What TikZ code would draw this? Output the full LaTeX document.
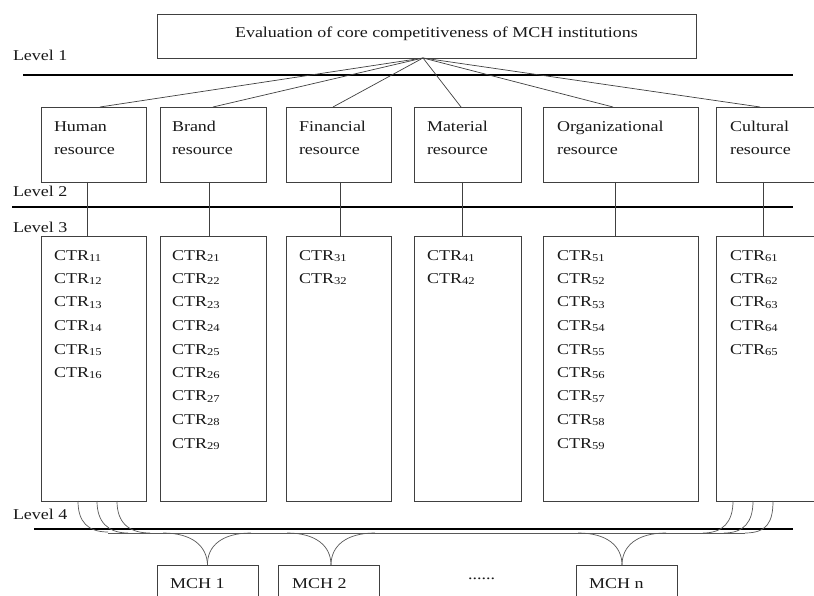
\documentclass[tikz,border=0pt]{standalone}
\usepackage{fontspec}
\setmainfont{Liberation Serif}[FakeStretch=1.2]
\newcommand\ctr[1]{CTR\raisebox{-1.2pt}{\fontsize{10.5}{10.5}\selectfont #1}}
\newcommand\twol[2]{\vtop{\hbox{#1}\hbox{#2}}}
\begin{document}
\begin{tikzpicture}[x=1pt,y=-1pt,
  box/.style={draw=black!75,line width=0.8pt,rectangle,inner sep=0pt,outer sep=0pt},
  txt/.style={anchor=base west,inner sep=0pt,outer sep=0pt,text=black!90,font=\fontsize{15}{23}\selectfont},
  ctrtxt/.style={txt,font=\fontsize{15}{23.5}\selectfont},
  conn/.style={draw=black!75,line width=0.7pt},
  curve/.style={draw=black!65,line width=0.7pt},
  rule/.style={draw=black,line width=2.3pt}]
\clip (0,0) rectangle (814,596);
\fill[white] (0,0) rectangle (814,596);
% level 1
\node[box,minimum width=539pt,minimum height=44pt] (top) at (426.5,36) {};
\node[txt] (toptxt) at (235,38) {Evaluation of core competitiveness of MCH institutions};
\node[txt] (l1) at (13,61) {Level 1};
\node[txt] (l2) at (13,197) {Level 2};
\node[txt] (l3) at (13,233) {Level 3};
\node[txt] (l4) at (13,519) {Level 4};
\draw[rule] (23,75) -- (793,75);
\draw[rule] (12,207) -- (793,207);
\draw[rule] (34,529) -- (793,529);
% level 2 boxes
\node[box,minimum width=105pt,minimum height=75pt] (b1) at (93.5,144.5) {};
\node[box,minimum width=106pt,minimum height=75pt] (b2) at (213,144.5) {};
\node[box,minimum width=105pt,minimum height=75pt] (b3) at (338.5,144.5) {};
\node[box,minimum width=107pt,minimum height=75pt] (b4) at (467.5,144.5) {};
\node[box,minimum width=155pt,minimum height=75pt] (b5) at (620.5,144.5) {};
\node[box,minimum width=114pt,minimum height=75pt] (b6) at (773,144.5) {};
\node[txt] (t1) at (54,132) {\twol{Human}{resource}};
\node[txt] (t2) at (172,132) {\twol{Brand}{resource}};
\node[txt] (t3) at (299,132) {\twol{Financial}{resource}};
\node[txt] (t4) at (427,132) {\twol{Material}{resource}};
\node[txt] (t5) at (557,132) {\twol{Organizational}{resource}};
\node[txt] (t6) at (730,132) {\twol{Cultural}{resource}};
% fan
\draw[conn] ([xshift=-3.5pt]top.south) -- ([xshift=6.5pt]b1.north);
\draw[conn] ([xshift=-3.5pt]top.south) -- (b2.north);
\draw[conn] ([xshift=-3.5pt]top.south) -- ([xshift=-5.5pt]b3.north);
\draw[conn] ([xshift=-3.5pt]top.south) -- ([xshift=-6.5pt]b4.north);
\draw[conn] ([xshift=-3.5pt]top.south) -- ([xshift=-7.5pt]b5.north);
\draw[conn] ([xshift=-3.5pt]top.south) -- ([xshift=-13pt]b6.north);
% level 3 boxes
\node[box,minimum width=105pt,minimum height=265pt] (c1) at (93.5,368.5) {};
\node[box,minimum width=106pt,minimum height=265pt] (c2) at (213,368.5) {};
\node[box,minimum width=105pt,minimum height=265pt] (c3) at (338.5,368.5) {};
\node[box,minimum width=107pt,minimum height=265pt] (c4) at (467.5,368.5) {};
\node[box,minimum width=155pt,minimum height=265pt] (c5) at (620.5,368.5) {};
\node[box,minimum width=114pt,minimum height=265pt] (c6) at (773,368.5) {};
\draw[conn] ([xshift=-6.5pt]b1.south) -- ([xshift=-6.5pt]c1.north);
\draw[conn] ([xshift=-4pt]b2.south) -- ([xshift=-4pt]c2.north);
\draw[conn] ([xshift=1.5pt]b3.south) -- ([xshift=1.5pt]c3.north);
\draw[conn] ([xshift=-5.5pt]b4.south) -- ([xshift=-5.5pt]c4.north);
\draw[conn] ([xshift=-5.5pt]b5.south) -- ([xshift=-5.5pt]c5.north);
\draw[conn] ([xshift=-10pt]b6.south) -- ([xshift=-10pt]c6.north);
\node[ctrtxt] (k1) at (54,260) {\vtop{\hbox{\ctr{11}}\hbox{\ctr{12}}\hbox{\ctr{13}}\hbox{\ctr{14}}\hbox{\ctr{15}}\hbox{\ctr{16}}}};
\node[ctrtxt] (k2) at (172,260) {\vtop{\hbox{\ctr{21}}\hbox{\ctr{22}}\hbox{\ctr{23}}\hbox{\ctr{24}}\hbox{\ctr{25}}\hbox{\ctr{26}}\hbox{\ctr{27}}\hbox{\ctr{28}}\hbox{\ctr{29}}}};
\node[ctrtxt] (k3) at (299,260) {\vtop{\hbox{\ctr{31}}\hbox{\ctr{32}}}};
\node[ctrtxt] (k4) at (427,260) {\vtop{\hbox{\ctr{41}}\hbox{\ctr{42}}}};
\node[ctrtxt] (k5) at (557,260) {\vtop{\hbox{\ctr{51}}\hbox{\ctr{52}}\hbox{\ctr{53}}\hbox{\ctr{54}}\hbox{\ctr{55}}\hbox{\ctr{56}}\hbox{\ctr{57}}\hbox{\ctr{58}}\hbox{\ctr{59}}}};
\node[ctrtxt] (k6) at (730,260) {\vtop{\hbox{\ctr{61}}\hbox{\ctr{62}}\hbox{\ctr{63}}\hbox{\ctr{64}}\hbox{\ctr{65}}}};
% MCH boxes
\node[box,minimum width=101pt,minimum height=45pt] (m1) at (207.5,587.5) {};
\node[box,minimum width=101pt,minimum height=45pt] (m2) at (328.5,587.5) {};
\node[box,minimum width=101pt,minimum height=45pt] (mn) at (626.5,587.5) {};
\node[txt] (mt1) at (170,588) {MCH 1};
\node[txt] (mt2) at (292,588) {MCH 2};
\node[txt] (mtn) at (589,588) {MCH n};
\node[txt] (dots) at (468,579) {......};
% bundle curves
\coordinate (bl) at (108,533);
\coordinate (br) at (745,533);
\draw[curve] ([xshift=-15.5pt]c1.south) .. controls +(0,21) and +(-20,0) .. (108,532);
\draw[curve] ([xshift=3.5pt]c1.south) .. controls +(0,21) and +(-20,0) .. (128,533);
\draw[curve] ([xshift=23.5pt]c1.south) .. controls +(0,21) and +(-22,0) .. (150,533);
\draw[curve] ([xshift=-40pt]c6.south) .. controls +(0,21) and +(20,0) .. (703,533);
\draw[curve] ([xshift=-20pt]c6.south) .. controls +(0,21) and +(20,0) .. (724,533);
\draw[curve] (c6.south) .. controls +(0,21) and +(22,0) .. (br);
\draw[curve] (bl) -- (br);
% branches to MCH
\draw[curve] (163,533) .. controls (192,533) and (207,546) .. (m1.north);
\draw[curve] (251,533) .. controls (222,533) and (207,546) .. (m1.north);
\draw[curve] (287,533) .. controls (316,533) and (331,546) .. ([xshift=2.5pt]m2.north);
\draw[curve] (375,533) .. controls (346,533) and (331,546) .. ([xshift=2.5pt]m2.north);
\draw[curve] (578,533) .. controls (607,533) and (622,546) .. ([xshift=-4.5pt]mn.north);
\draw[curve] (666,533) .. controls (637,533) and (622,546) .. ([xshift=-4.5pt]mn.north);
\end{tikzpicture}
\end{document}
